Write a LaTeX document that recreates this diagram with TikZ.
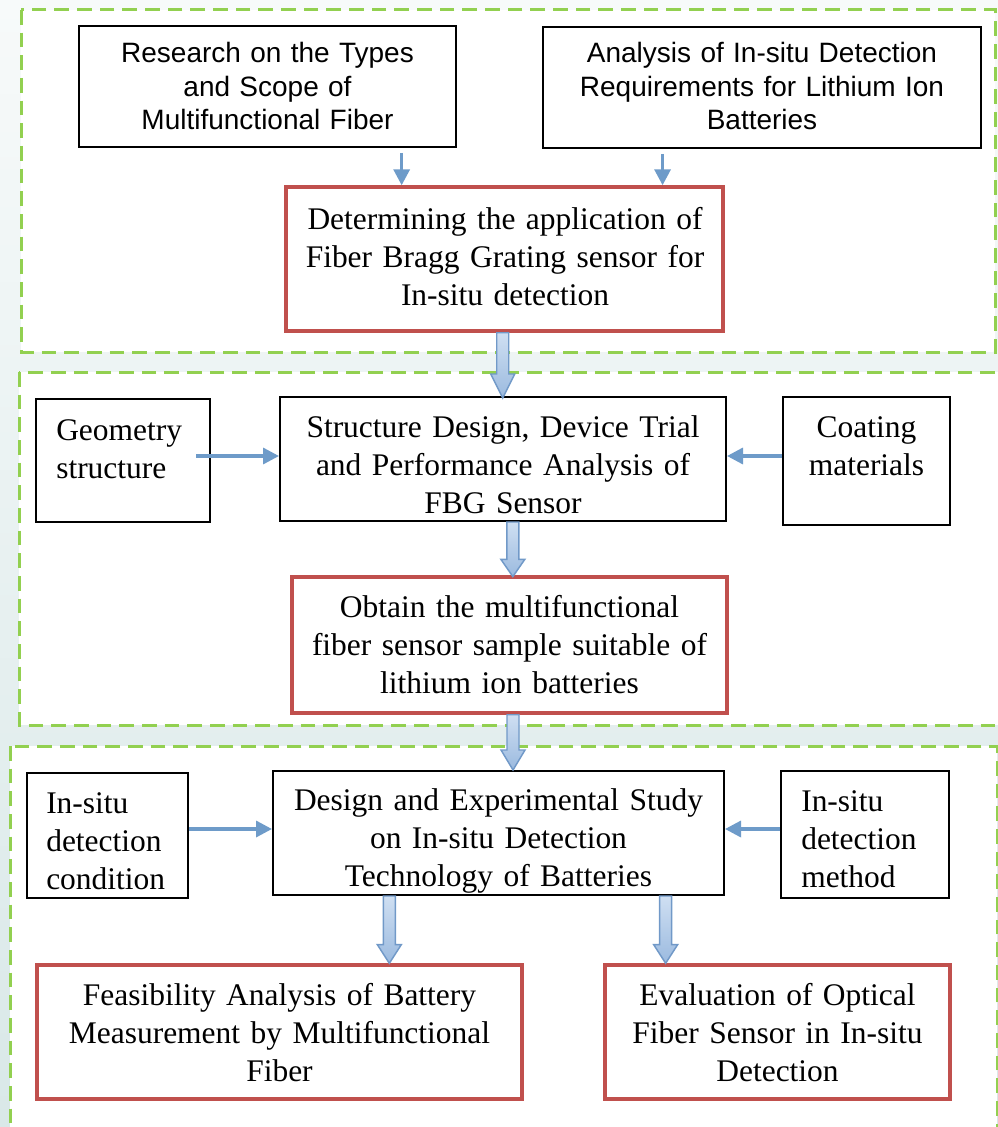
\documentclass[tikz,border=0pt]{standalone}
\usepackage{fontspec}
\setmainfont{Liberation Serif}
\newfontfamily\sansfont{Liberation Sans}
\usetikzlibrary{calc,fit,arrows.meta}

\definecolor{dashgreen}{HTML}{92D050}
\definecolor{boxred}{HTML}{C0504D}
\definecolor{flowblue}{HTML}{6E9BC9}
\definecolor{fatedge}{HTML}{7199C8}
\definecolor{fattop}{HTML}{CFDFF2}
\definecolor{fatbot}{HTML}{9BBADF}
\definecolor{bgtop}{HTML}{F7FAFA}
\definecolor{bgbot}{HTML}{D9E8E8}

\tikzset{
  panel/.style={draw=dashgreen, line width=2.25pt, dash pattern=on 11pt off 6pt, fill=white},
  plainbox/.style={draw=black, line width=1.5pt, inner sep=0pt, fill=white},
  keybox/.style={draw=boxred, line width=2.6pt, inner sep=0pt, fill=white},
  serif/.style={inner sep=0pt, text width=620*0.75pt, align=center, anchor=base,
    font=\fontsize{23.6}{28.5}\selectfont},
  serifleft/.style={serif, align=left, text width=200*0.75pt, anchor=base west},
  sans/.style={inner sep=0pt, text width=620*0.75pt, align=center, anchor=base,
    font=\sansfont\fontsize{21}{25}\selectfont},
  thinarrow/.style={draw=flowblue, line width=2.5pt, -{Triangle[length=12pt,width=12pt]}},
  fatarrow/.style={draw=fatedge, line width=1.1pt, top color=fattop, bottom color=fatbot,
    line join=miter},
}

% broad downward arrow: #1 start point, #2 point giving the tip level, #3 head length
\newcommand\fatdown[3]{%
  \path[fatarrow] let \p1=(#1), \p2=(#2) in
    (\x1-4.5pt,\y1) -- (\x1+4.5pt,\y1) -- (\x1+4.5pt,\y2+#3) -- (\x1+9pt,\y2+#3)
    -- (\x1,\y2) -- (\x1-9pt,\y2+#3) -- (\x1-4.5pt,\y2+#3) -- cycle;}

\begin{document}
\begin{tikzpicture}[x=0.75pt,y=-0.75pt]
\useasboundingbox (0,0) rectangle (998,1127);
\clip (0,0) rectangle (998,1127);
\shade[top color=bgtop, bottom color=bgbot] (0,0) rectangle (998,1127);

% dashed stage panels
\draw[panel] (21,10) rectangle (995,352);
\draw[panel] (19,372) rectangle (1004,725);
\draw[panel] (10,746) rectangle (997,1140);

% boxes
\node[plainbox, fit={(79,26) (456,147)}] (b1) {};
\node[plainbox, fit={(543,27) (981,148)}] (b2) {};
\node[keybox, fit={(286,187) (723,331)}] (det) {};
\node[plainbox, fit={(36,399) (210,522)}] (geo) {};
\node[plainbox, fit={(280,397) (726,521)}] (sd) {};
\node[plainbox, fit={(783,397) (950,525)}] (coat) {};
\node[keybox, fit={(292,577) (727,713)}] (obt) {};
\node[plainbox, fit={(27,773) (188,898)}] (cond) {};
\node[plainbox, fit={(273,771) (724,895)}] (des) {};
\node[plainbox, fit={(781,771) (949,898)}] (meth) {};
\node[keybox, fit={(37,965) (522,1099)}] (feas) {};
\node[keybox, fit={(605,965) (950,1099)}] (eval) {};

% thin connectors
\coordinate (o1) at ($(b1.south west)!0.854!(b1.south east)$);
\coordinate (o2) at ($(b2.south west)!0.274!(b2.south east)$);
\draw[thinarrow] ([yshift=-3.75pt]o1) -- (o1 |- det.north);
\draw[thinarrow] ([yshift=-3.75pt]o2) -- (o2 |- det.north);
\coordinate (sdin) at ([yshift=2.25pt]sd.west);
\coordinate (sdin2) at ([yshift=2.25pt]sd.east);
\draw[thinarrow] ([xshift=-11.25pt]geo.east |- sdin) -- (sdin);
\draw[thinarrow] (coat.west |- sdin2) -- (sdin2);
\coordinate (desin) at ([yshift=3pt]des.west);
\coordinate (desin2) at ([yshift=3pt]des.east);
\draw[thinarrow] (cond.east |- desin) -- (desin);
\draw[thinarrow] (meth.west |- desin2) -- (desin2);

% broad connectors
\coordinate (f1) at ($(det.south west)!0.496!(det.south east)$);
\coordinate (f2) at ($(sd.south west)!0.522!(sd.south east)$);
\coordinate (f3) at ($(obt.south west)!0.508!(obt.south east)$);
\coordinate (f4) at ($(des.south west)!0.259!(des.south east)$);
\coordinate (f5) at ($(des.south west)!0.869!(des.south east)$);
\fatdown{f1}{[yshift=-1.5pt]sd.north}{18pt}
\fatdown{f2}{[yshift=-1pt]obt.north}{13pt}
\fatdown{f3}{des.north}{15pt}
\fatdown{f4}{feas.north}{14pt}
\fatdown{f5}{eval.north}{14pt}

% texts
\node[sans] (b1t) at (267.5,63) {Research on the Types\\and Scope of\\Multifunctional Fiber};
\node[sans] (b2t) at (762,63) {Analysis of In-situ Detection\\Requirements for Lithium Ion\\Batteries};
\node[serif] (dett) at (505,229) {Determining the application of\\Fiber Bragg Grating sensor for\\In-situ detection};
\node[serifleft] (geot) at (56,440) {Geometry\\structure};
\node[serif] (sdt) at (503,437) {Structure Design, Device Trial\\and Performance Analysis of\\FBG Sensor};
\node[serif] (coatt) at (866.5,437) {Coating\\materials};
\node[serif] (obtt) at (509.5,617) {Obtain the multifunctional\\fiber sensor sample suitable of\\lithium ion batteries};
\node[serifleft] (condt) at (46,813) {In-situ\\detection\\condition};
\node[serif] (dest) at (498.5,810) {Design and Experimental Study\\on In-situ Detection\\Technology of Batteries};
\node[serifleft] (metht) at (801,811) {In-situ\\detection\\method};
\node[serif] (feast) at (279.5,1005) {Feasibility Analysis of Battery\\Measurement by Multifunctional\\Fiber};
\node[serif] (evalt) at (777.5,1005) {Evaluation of Optical\\Fiber Sensor in In-situ\\Detection};
\end{tikzpicture}
\end{document}
